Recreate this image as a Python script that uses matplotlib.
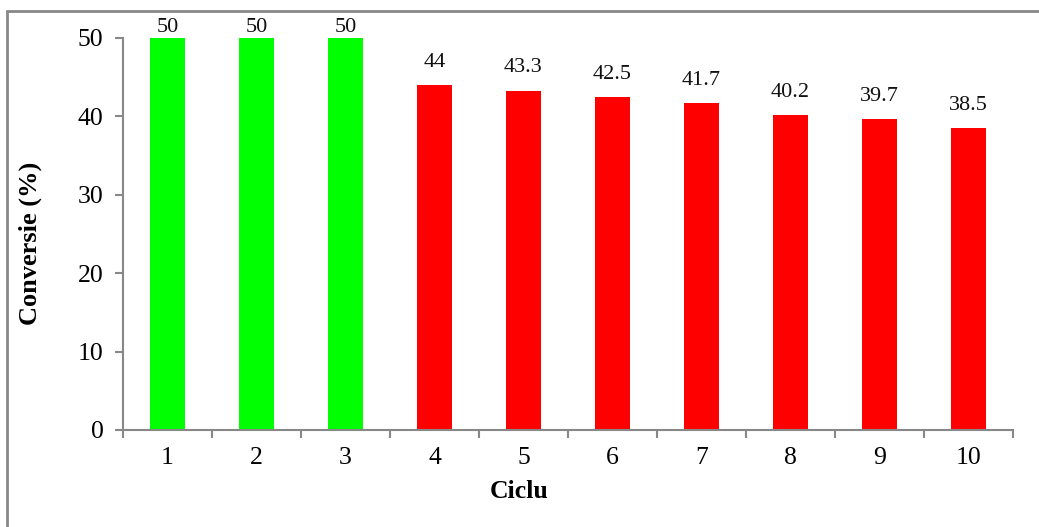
import matplotlib.pyplot as plt
from matplotlib.patches import Rectangle
from matplotlib.ticker import FixedLocator

cycles = [1, 2, 3, 4, 5, 6, 7, 8, 9, 10]
conversion = [50, 50, 50, 44, 43.3, 42.5, 41.7, 40.2, 39.7, 38.5]
colors = ["#00ff00"] * 3 + ["#ff0000"] * 7
y_ticks = [0, 10, 20, 30, 40, 50]

plt.rcParams["font.family"] = ["Liberation Serif", "DejaVu Serif"]

fig = plt.figure(figsize=(10.39, 5.27), dpi=100)
ax = fig.add_axes([123 / 1039, 1 - 430 / 527, (1013 - 123) / 1039, (430 - 38) / 527])

# outer frame
fig.patches.append(Rectangle((7 / 1039, -0.05), 1.1, (527 - 11) / 527 + 0.05,
                             transform=fig.transFigure, fill=False,
                             edgecolor="#888888", linewidth=2))

ax.bar(cycles, conversion, width=0.4, color=colors, zorder=2)

ymax = 50
for x, v in zip(cycles, conversion):
    off = 0.5 if v >= ymax else 9.5
    ax.annotate(f"{v:g}", (x, v), xytext=(0, off), textcoords="offset points",
                ha="center", va="bottom", fontsize=16, color="#111111",
                annotation_clip=False)

ax.set_xlim(0.5, 10.5)
ax.set_ylim(0, ymax)
ax.set_yticks(y_ticks)
ax.set_xticks(cycles)
ax.xaxis.set_minor_locator(FixedLocator([c - 0.5 for c in cycles] + [10.5]))

for s in ["top", "right"]:
    ax.spines[s].set_visible(False)
for s in ["left", "bottom"]:
    ax.spines[s].set_color("#888888")
    ax.spines[s].set_linewidth(1.5)

ax.tick_params(axis="x", which="major", length=0, pad=12, labelsize=18.5)
ax.tick_params(axis="x", which="minor", length=6, width=1.5, color="#888888", direction="out")
ax.tick_params(axis="y", length=6, width=1.5, color="#888888", direction="out",
               pad=8, labelsize=18.5)

ax.set_xlabel("Ciclu", fontsize=18.5, fontweight="bold")
ax.xaxis.set_label_coords(0.445, -0.128)
ax.set_ylabel("Conversie (%)", fontsize=19, fontweight="bold")
ax.yaxis.set_label_coords(-0.091, 0.477)

fig.savefig("out.png", dpi=100)
